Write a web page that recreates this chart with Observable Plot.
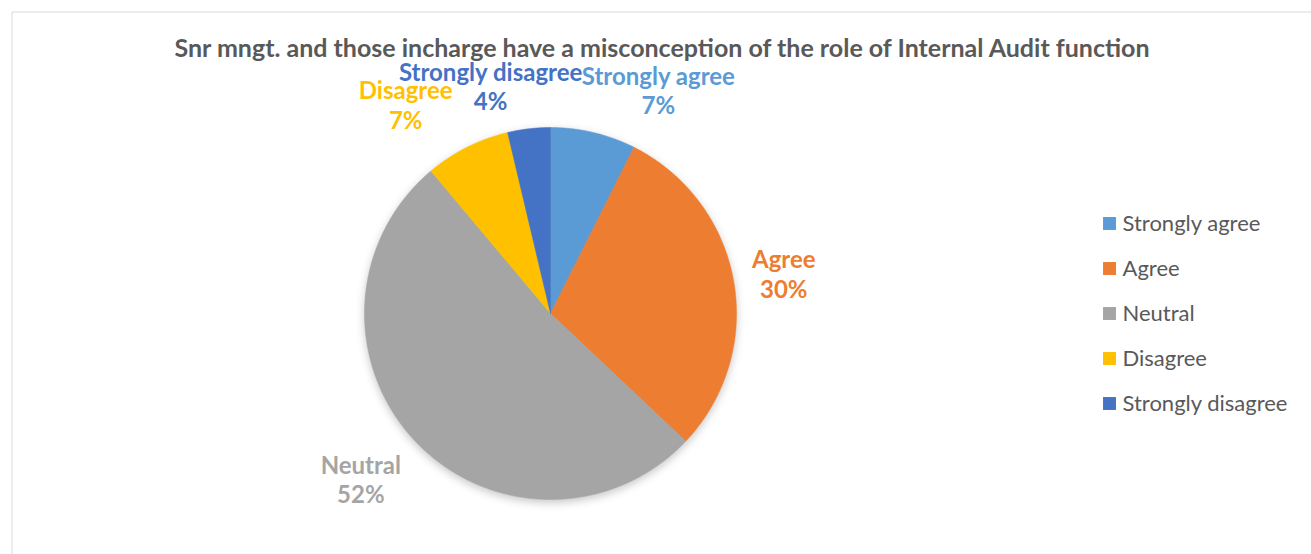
<!DOCTYPE html>
<html>
<head>
<meta charset="utf-8">
<script src="https://cdn.jsdelivr.net/npm/d3@7"></script>
<script src="https://cdn.jsdelivr.net/npm/@observablehq/plot@0.6"></script>
<style>
  html, body { margin: 0; padding: 0; background: #fff; }
  #chart { width: 1311px; height: 554px; }
</style>
</head>
<body>
<div id="chart"></div>
<script>
// ---- data ----
const categories = ["Strongly agree", "Agree", "Neutral", "Disagree", "Strongly disagree"];
const counts = [2, 8, 14, 2, 1];
const colors = ["#5B9BD5", "#ED7D31", "#A5A5A5", "#FFC000", "#4472C4"];
const title = "Snr mngt. and those incharge have a misconception of the role of Internal Audit function";

// ---- layout constants ----
const W = 1311, H = 554;
const CX = 550, CY = 313, R = 186;          // pie centre and radius in pixels
const FONT = "Lato, 'Open Sans', sans-serif";
const labelSize = 24, labelLine = 1.22;
const labelNudge = { // pixel tweaks mimicking Excel's label collision handling
  "Strongly agree": [44, 0],
  "Agree": [5, 0],
  "Neutral": [-15, 8],
  "Disagree": [-34, -4],
  "Strongly disagree": [-26, 0]
};

const total = d3.sum(counts);
const rows = categories.map((c, i) => ({category: c, value: counts[i]}));
const arcs = d3.pie().sort(null).value(d => d.value)(rows);

// slice polygons in radius units (y up)
const slicePts = [];
for (const a of arcs) {
  const k = a.data.category;
  slicePts.push({k, x: 0, y: 0});
  const n = Math.max(2, Math.ceil((a.endAngle - a.startAngle) / (Math.PI / 360)));
  for (let j = 0; j <= n; j++) {
    const t = a.startAngle + (a.endAngle - a.startAngle) * j / n;
    slicePts.push({k, x: Math.sin(t), y: Math.cos(t)});
  }
  slicePts.push({k, x: 0, y: 0});
}

// labels outside end
const ctx = document.createElement("canvas").getContext("2d");
ctx.font = `bold ${labelSize}px ${FONT}`;
const labels = arcs.map(a => {
  const k = a.data.category;
  const pct = Math.round(a.data.value / total * 100) + "%";
  const m = (a.startAngle + a.endAngle) / 2;
  const s = Math.sin(m), c = Math.cos(m);
  const w = Math.max(ctx.measureText(k).width, ctx.measureText(pct).width);
  const h = 2 * labelSize * labelLine;
  const pad = 14;
  const [ndx, ndy] = labelNudge[k];
  return {
    category: k,
    text: k + "\n" + pct,
    x: s * (1 + pad / R) + s * (w / 2) / R + ndx / R,
    y: c * (1 + pad / R) + c * (h / 2) / R - ndy / R
  };
});

// legend (radius units)
const legendX = (1109 - CX) / R, legendTextX = (1122 - CX) / R;
const legend = categories.map((c, i) => ({category: c, y: (CY - (223 + i * 45)) / R}));

const chart = Plot.plot({
  width: W, height: H, margin: 0,
  x: {domain: [-CX / R, (W - CX) / R], axis: null},
  y: {domain: [-(H - CY) / R, CY / R], axis: null},
  color: {domain: categories, range: colors},
  style: {fontFamily: FONT, background: "white", overflow: "visible"},
  marks: [
    Plot.frame({stroke: "#D9D9D9", insetLeft: 11.5, insetTop: 11.5, insetRight: -5, insetBottom: -5}),
    Plot.line(slicePts, {x: "x", y: "y", z: "k", fill: "k", stroke: "k", strokeWidth: 0.5, curve: "linear"}),
    Plot.text([title], {frameAnchor: "top", dx: 6, dy: 48, lineAnchor: "middle", fontSize: 25, fontWeight: "bold", fill: "#595959"}),
    Plot.text(labels, {x: "x", y: "y", text: "text", fill: "category", fontSize: labelSize, fontWeight: "bold", lineHeight: labelLine, lineAnchor: "middle", textAnchor: "middle"}),
    Plot.dot(legend, {x: () => legendX, y: "y", symbol: "square", r: 7.3, fill: "category", stroke: null}),
    Plot.text(legend, {x: () => legendTextX, y: "y", text: "category", textAnchor: "start", fontSize: 22, fill: "#595959"})
  ]
});

d3.select(chart).selectAll('g[aria-label="line"]').style("filter", "drop-shadow(0px 3px 4px rgba(0,0,0,0.22))");
document.getElementById("chart").append(chart);
</script>
</body>
</html>
